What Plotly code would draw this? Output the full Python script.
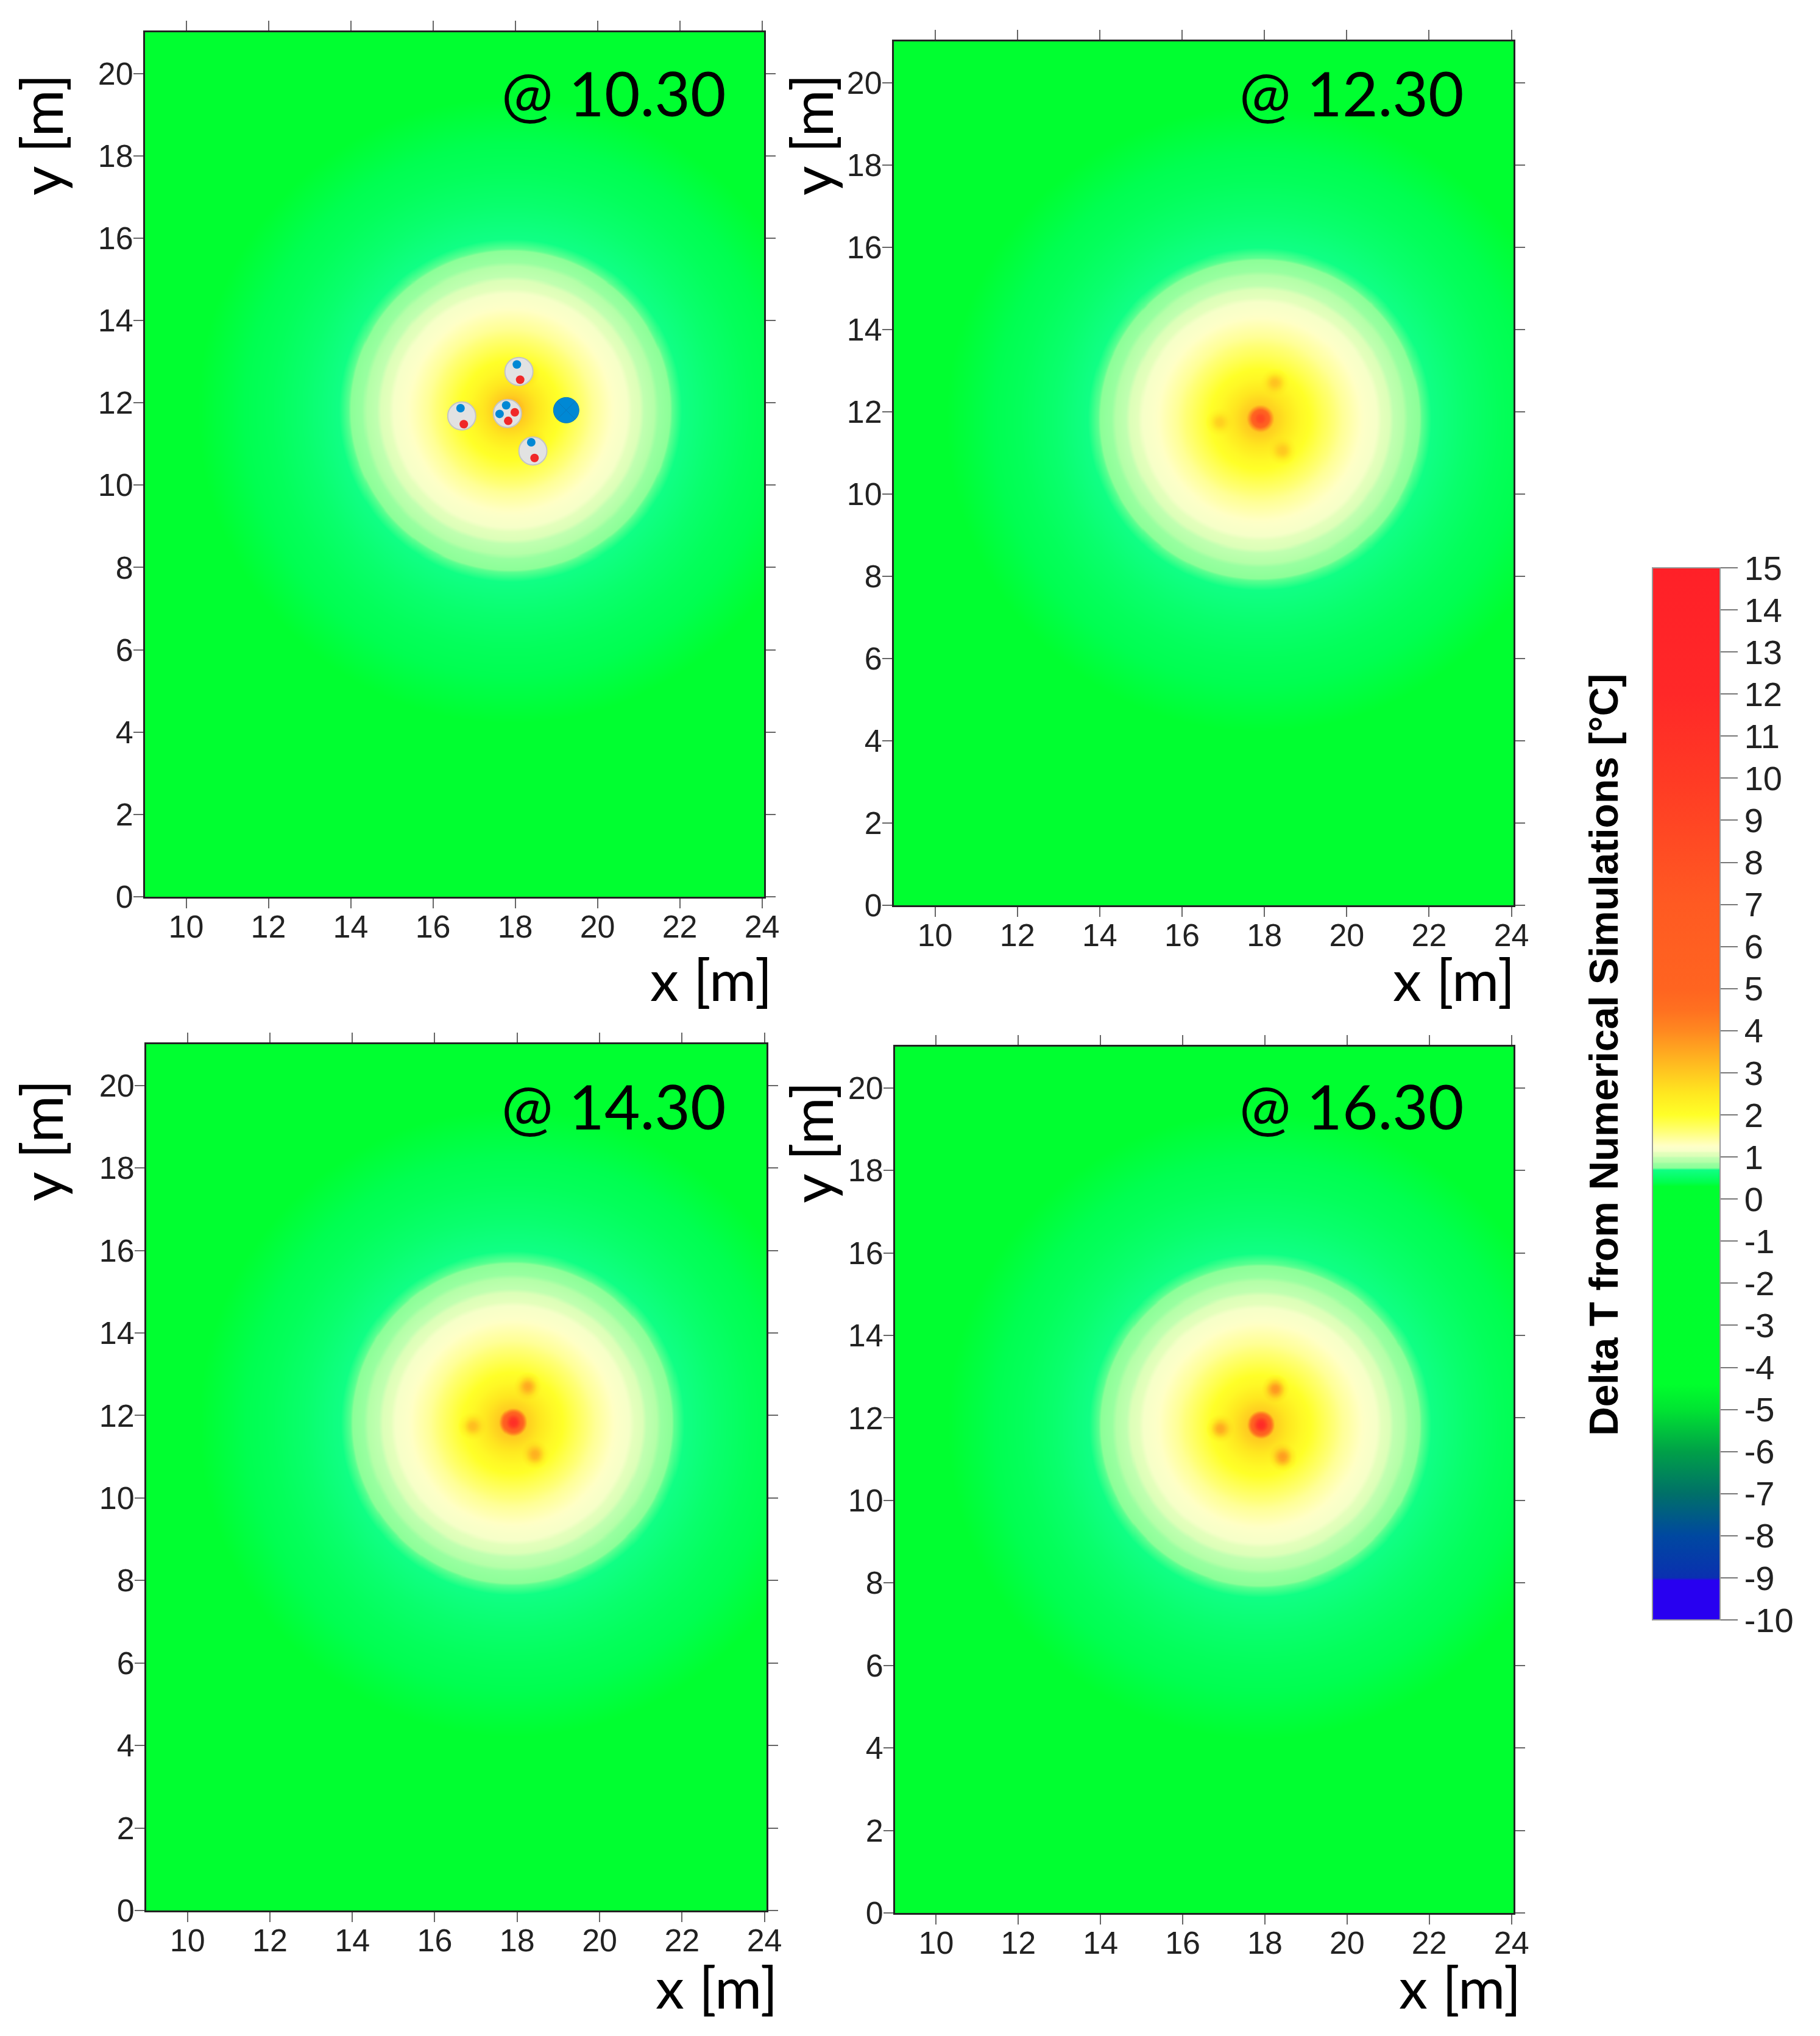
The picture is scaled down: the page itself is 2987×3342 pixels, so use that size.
import numpy as np
import plotly.graph_objects as go

W, H = 2987, 3342

# Values
panel_labels = ["@ 10.30", "@ 12.30", "@ 14.30", "@ 16.30"]
x_ticks = [10, 12, 14, 16, 18, 20, 22, 24]
y_ticks = [0, 2, 4, 6, 8, 10, 12, 14, 16, 18, 20]
cbar_ticks = list(range(-10, 16))

# Radial temperature profile around the borehole field, read from the rings
profile_r = [0.0, 0.3, 0.6, 1.0, 1.5, 2.0, 2.5, 2.9, 3.2, 3.55, 3.93, 4.25, 5.0, 5.8, 6.8, 7.6, 20.0]
profile_v = [3.2, 3.0, 2.6, 2.15, 1.8, 1.47, 1.25, 1.12, 1.0, 0.86, 0.72, 0.68, 0.56, 0.46, 0.37, 0.3, 0.1]
field_centre = (17.88, 11.82)

# Hot spots: central borehole and three satellites, with local footprint
spot_x = [17.90, 18.25, 18.43, 16.91]
spot_y = [11.84, 12.71, 11.06, 11.75]
spot_r = [0.0, 0.08, 0.16, 0.24, 0.34]
spot_shape = [1.0, 0.9, 0.55, 0.2, 0.0]
spot_peak = {
    0: [3.6, 2.9, 2.7, 2.6],
    1: [9.0, 3.1, 3.0, 2.9],
    2: [11.5, 3.5, 3.4, 3.2],
    3: [12.0, 3.8, 3.7, 3.5],
}

# Colour bar stops
cs_val = [-10, -9.06, -9.0, -8, -7, -6, -5, -4.4, 0.3, 0.4, 0.69, 0.74, 0.84, 0.88, 0.98, 1.02, 1.1,
          1.14, 1.23, 1.27, 1.6, 2.0, 2.5, 3.0, 3.5, 4.0, 4.5, 5.0, 7.0, 10.0, 12.0, 15.0]
cs_col = ["#2800F0", "#2800F0", "#0A30B0", "#0048A0", "#007068", "#00A048", "#00E432", "#00FF2C",
          "#00FF30", "#00FF50", "#10FF84", "#8CFF98", "#98FFA0", "#B4FFA8", "#C0FFB0", "#DCFFB8", "#E4FFBC",
          "#F6FFC8", "#FCFFC8", "#FFFFC4", "#FFFF78", "#FFFF28", "#FFE820", "#FFC820", "#FFA820", "#FF8820",
          "#FF7020", "#FF6420", "#FF5A22", "#FF3A24", "#FF2828", "#FF2028"]

# Instrument overlay on first panel
pad_x = [18.09, 16.70, 17.81, 18.43]
pad_y = [12.76, 11.68, 11.74, 10.83]
blue_x = [18.04, 16.67, 18.39, 17.78, 17.62]
blue_y = [12.93, 11.87, 11.04, 11.94, 11.73]
red_x = [18.12, 16.75, 18.47, 17.99, 17.83]
red_y = [12.56, 11.48, 10.66, 11.77, 11.56]
well_x = [19.24]
well_y = [11.82]

# Pixel boxes: left, right, top, bottom
boxes = [(238, 1254, 53, 1472), (1467, 2484, 68, 1486), (240, 1258, 1714, 3136), (1469, 2484, 1718, 3140)]
XR = [9, 24.05]
YR = [0, 21]
FONT_T = "Liberation Sans"
FONT_C = "Lato"

grid_x = np.arange(9, 24.06, 0.03)
grid_y = np.arange(0, 21.01, 0.03)
GX, GY = np.meshgrid(grid_x, grid_y)


def field(idx):
    rr = np.hypot(GX - field_centre[0], GY - field_centre[1])
    z = np.interp(rr, profile_r, profile_v)
    for sx, sy, peak in zip(spot_x, spot_y, spot_peak[idx]):
        d = np.hypot(GX - sx, GY - sy)
        g = np.interp(d, spot_r, spot_shape)
        z = z + np.clip(peak - z, 0, None) * g
    return z.astype("float32")


cs = [[(v - cs_val[0]) / (cs_val[-1] - cs_val[0]), c] for v, c in zip(cs_val, cs_col)]

fig = go.Figure()
layout = dict(
    width=W, height=H, paper_bgcolor="white", plot_bgcolor="white",
    margin=dict(l=0, r=0, t=0, b=0, pad=0, autoexpand=False), showlegend=False,
)
ann = []


def px_x(p):
    return p / W


def px_y(p):
    return 1 - p / H


for i, (l, r, t, b) in enumerate(boxes):
    sx = "" if i == 0 else str(i + 1)
    trace = go.Heatmap(
        x=grid_x, y=grid_y, z=field(i), zmin=cs_val[0], zmax=cs_val[-1], colorscale=cs,
        zsmooth="best", xaxis="x" + sx, yaxis="y" + sx, hoverinfo="skip", showscale=(i == 0),
    )
    if i == 0:
        trace.colorbar = dict(
            x=px_x(2712), xanchor="left", y=px_y((932 + 2659) / 2), yanchor="middle",
            lenmode="pixels", len=2659 - 932, thicknessmode="pixels", thickness=111,
            xpad=0, ypad=0, outlinecolor="#999999", outlinewidth=2,
            tickmode="array", tickvals=cbar_ticks, ticktext=[str(v) for v in cbar_ticks],
            ticks="outside", ticklen=28, tickwidth=2, tickcolor="#777777",
            ticklabelposition="outside",
            tickfont=dict(family=FONT_T, size=56, color="#222222"),
        )
    fig.add_trace(trace)
    common = dict(
        showgrid=False, zeroline=False, showline=True, linecolor="#222222", linewidth=3, mirror="ticks",
        ticks="outside", ticklen=16, tickwidth=2, tickcolor="#666666",
        tickfont=dict(family=FONT_T, size=52, color="#222222"),
    )
    layout["xaxis" + sx] = dict(
        domain=[px_x(l), px_x(r)], range=XR, tickmode="array", tickvals=x_ticks,
        anchor="y" + sx, ticklabelstandoff=-14, **common)
    layout["yaxis" + sx] = dict(
        domain=[px_y(b), px_y(t)], range=YR, tickmode="array", tickvals=y_ticks,
        anchor="x" + sx, ticklabelstandoff=-10, **common)

# overlay markers in panel 1
fig.add_trace(go.Scatter(x=pad_x, y=pad_y, mode="markers", hoverinfo="skip", xaxis="x", yaxis="y",
                         marker=dict(size=46, color="#E2E2E2", line=dict(color="#C4C4C4", width=2))))
fig.add_trace(go.Scatter(x=blue_x, y=blue_y, mode="markers", hoverinfo="skip", xaxis="x", yaxis="y",
                         marker=dict(size=14, color="#0088D4")))
fig.add_trace(go.Scatter(x=red_x, y=red_y, mode="markers", hoverinfo="skip", xaxis="x", yaxis="y",
                         marker=dict(size=14, color="#F02828")))
fig.add_trace(go.Scatter(x=well_x, y=well_y, mode="markers", hoverinfo="skip", xaxis="x", yaxis="y",
                         marker=dict(size=42, color="#0088D4", symbol="circle-x",
                                     line=dict(color="#0A78BC", width=1))))


def text(s, x, y, size, family=FONT_C, angle=0, anchor="center", bold=False, color="black"):
    ann.append(dict(text=("<b>%s</b>" % s) if bold else s, x=px_x(x), y=px_y(y), xref="paper", yref="paper",
                    xanchor=anchor, yanchor="middle", showarrow=False, textangle=angle,
                    font=dict(family=family, size=size, color=color)))


label_pos = [(1194, 152), (2405, 152), (1194, 1815), (2405, 1815)]
xt_pos = [(1167, 1606), (2386, 1606), (1176, 3260), (2396, 3260)]
yt_pos = [(66, 221), (1330, 221), (66, 1872), (1330, 1875)]
for s, (a, b) in zip(panel_labels, label_pos):
    text(s, a, b, 101, anchor="right")
for (a, b) in xt_pos:
    text("x [m]", a, b, 94)
for (a, b) in yt_pos:
    text("y [m]", a, b, 94, angle=-90)
text("Delta T from Numerical Simulations [°C]", 2632, 1732, 66, family=FONT_T, angle=-90, bold=True)

layout["annotations"] = ann
fig.update_layout(**layout)
fig.write_html("out.html", config={"displayModeBar": False},
               post_script="document.body.style.margin='0';")
